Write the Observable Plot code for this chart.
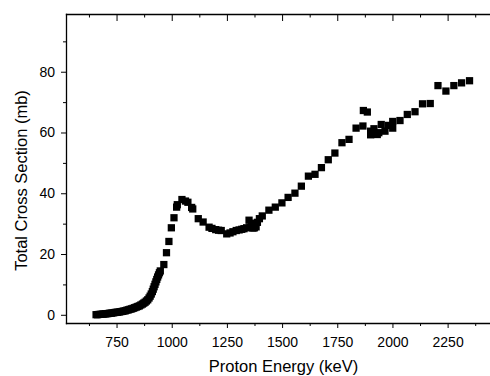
<!DOCTYPE html>
<html><head><meta charset="utf-8">
<script src="https://cdn.jsdelivr.net/npm/d3@7"></script>
<script src="https://cdn.jsdelivr.net/npm/@observablehq/plot@0.6"></script>
<style>html,body{margin:0;padding:0;background:#fff;overflow:hidden}</style>
</head><body><div id="chart"></div>
<script>
const energy = [
  655, 662, 669, 676, 683, 690, 697, 704, 711, 718, 725, 732, 739, 746, 753, 760, 767, 774, 781, 788,
  795, 802, 809, 816, 823, 830, 837, 844, 851, 858, 865, 871, 877, 883, 889, 895, 900, 905, 910, 914,
  918, 922, 926, 930, 934, 938, 942, 946, 962, 974, 985, 996, 1008, 1020, 1023, 1044, 1060, 1071, 1088, 1093,
  1118, 1140, 1167, 1180, 1197, 1210, 1222, 1247, 1262, 1275, 1290, 1303, 1315, 1325, 1337, 1348, 1352, 1360, 1366, 1372,
  1380, 1386, 1395, 1408, 1438, 1467, 1497, 1525, 1556, 1585, 1617, 1647, 1676, 1707, 1737, 1769, 1801, 1833, 1864, 1866,
  1884, 1899, 1899, 1914, 1929, 1936, 1947, 1964, 1980, 1999, 1999, 2032, 2065, 2100, 2134, 2169, 2204, 2240, 2276, 2311,
  2347
];
const crossSection = [
  0.2, 0.2, 0.3, 0.3, 0.4, 0.4, 0.5, 0.5, 0.6, 0.7, 0.7, 0.8, 0.9, 1.0, 1.0, 1.1, 1.2, 1.3, 1.4, 1.5,
  1.7, 1.8, 2.0, 2.1, 2.3, 2.5, 2.7, 2.9, 3.1, 3.4, 3.7, 4.0, 4.3, 4.7, 5.1, 5.7, 6.3, 7.0, 7.8, 8.6,
  9.4, 10.2, 11.0, 11.8, 12.6, 13.3, 14.0, 14.6, 16.7, 20.6, 24.3, 28.8, 32.1, 35.6, 36.4, 38.1, 37.6, 37.2, 35.5, 35.0,
  31.8, 30.7, 29.0, 28.6, 28.2, 28.0, 27.9, 26.8, 27.1, 27.5, 27.9, 28.1, 28.3, 28.5, 28.8, 31.3, 29.0, 30.3, 28.7, 28.8,
  29.1, 30.6, 31.8, 32.7, 34.6, 35.6, 37.0, 38.8, 40.2, 42.5, 45.8, 46.4, 48.6, 51.2, 53.4, 56.8, 57.9, 61.6, 62.3, 67.4,
  66.9, 60.6, 59.4, 61.4, 59.5, 60.1, 62.8, 60.6, 62.5, 63.8, 61.6, 64.1, 66.1, 67.0, 69.6, 69.7, 75.6, 73.8, 75.6, 76.5,
  77.2
];
const xMajorTicks = [750, 1000, 1250, 1500, 1750, 2000, 2250];
const xMinorTicks = [625, 875, 1125, 1375, 1625, 1875, 2125, 2375];
const yMajorTicks = [0, 20, 40, 60, 80];
const yMinorTicks = [10, 30, 50, 70, 90];
const xLabel = "Proton Energy (keV)";
const yLabel = "Total Cross Section (mb)";

const data = energy.map((e, i) => ({e, s: crossSection[i]}));
const font = "Arial, 'Liberation Sans', sans-serif";
const ink = "#000";

const chart = Plot.plot({
  width: 490, height: 376,
  marginLeft: 66, marginRight: 0, marginTop: 14, marginBottom: 53,
  style: {fontFamily: font, background: "white", color: ink, overflow: "visible"},
  x: {domain: [521, 2442]},
  y: {domain: [-2.7, 99]},
  marks: [
    Plot.frame({anchor: "left", stroke: ink, strokeWidth: 1.3}),
    Plot.frame({anchor: "bottom", stroke: ink, strokeWidth: 1.3}),
    Plot.frame({anchor: "top", stroke: ink, strokeWidth: 1.3}),
    Plot.dot(data, {x: "e", y: "s", symbol: "square", r: 4.1, fill: ink, stroke: "none"}),
    Plot.axisX({anchor: "bottom", ticks: xMajorTicks, tickSize: 5, tickPadding: 9, fontSize: 14, label: null, tickFormat: d => String(d), stroke: ink, fill: ink}),
    Plot.axisX({anchor: "bottom", ticks: xMinorTicks, tickSize: 3, tickFormat: () => "", label: null, stroke: ink}),
    Plot.axisX({anchor: "top", ticks: xMajorTicks, tickSize: 6, dy: 6, tickFormat: () => "", label: null, stroke: ink}),
    Plot.axisX({anchor: "top", ticks: xMinorTicks, tickSize: 2.5, dy: 2.5, tickFormat: () => "", label: null, stroke: ink}),
    Plot.axisY({anchor: "left", ticks: yMajorTicks, tickSize: 5, tickPadding: 6.5, fontSize: 14, label: null, tickFormat: d => String(d), stroke: ink, fill: ink}),
    Plot.axisY({anchor: "left", ticks: yMinorTicks, tickSize: 3, tickFormat: () => "", label: null, stroke: ink}),
    Plot.text([xLabel], {frameAnchor: "bottom", text: d => d, dx: 5, dy: 48.5, lineAnchor: "bottom", textAnchor: "middle", fontSize: 16.5, fill: ink}),
    Plot.text([yLabel], {frameAnchor: "left", text: d => d, dx: -40, dy: 11.5, rotate: -90, lineAnchor: "bottom", textAnchor: "middle", fontSize: 16.5, fill: ink})
  ]
});
document.getElementById("chart").appendChild(chart);
</script>
</body></html>
